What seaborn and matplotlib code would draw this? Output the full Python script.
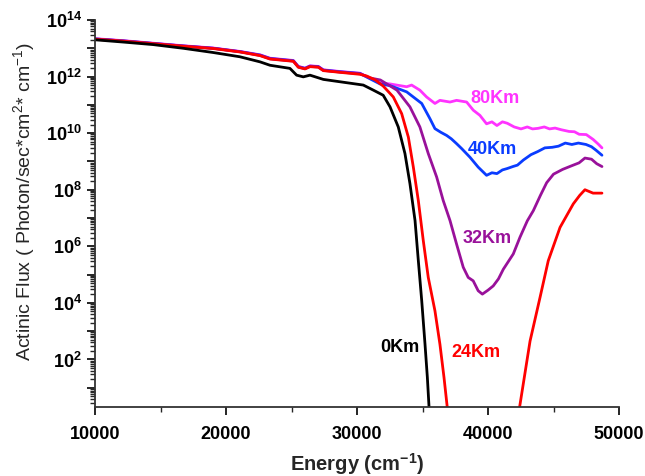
import numpy as np
import pandas as pd
import matplotlib
matplotlib.use("Agg")
import matplotlib.pyplot as plt
import seaborn as sns
from matplotlib.ticker import LogLocator, FixedLocator, MultipleLocator

# energies (cm^-1) and log10(flux)
e_0km = [10000, 12160, 14450, 16740, 19030, 21060, 22600, 23360, 24880, 25390, 25900,
         26410, 27430, 28190, 29720, 30480, 31250, 32000, 32520, 33150, 33660, 34040,
         34430, 34680, 34940, 35190, 35370, 35500, 35800]
f_0km = [13.30, 13.22, 13.13, 13.00, 12.85, 12.70, 12.52, 12.40, 12.29, 12.05, 11.99,
         12.05, 11.90, 11.85, 11.75, 11.70, 11.52, 11.34, 10.93, 10.22, 9.28, 8.22,
         6.91, 5.50, 4.08, 2.55, 1.37, 0.31, -0.5]

e_24km = [10000, 12160, 14450, 16740, 19030, 21060, 22600, 23360, 25140, 25520, 26030,
          26410, 27050, 27430, 28700, 30230, 30740, 31400, 32010, 32770, 33410, 33920,
          34300, 34680, 35060, 35440, 35950, 36330, 36640, 36890, 37200, 39500, 42200,
          42400, 43210, 43970, 44600, 45500, 46510, 47000, 47400, 48020, 48700]
f_24km = [13.32, 13.25, 13.16, 13.07, 12.99, 12.87, 12.74, 12.62, 12.54, 12.33, 12.27,
          12.35, 12.33, 12.21, 12.15, 12.08, 12.02, 11.88, 11.66, 11.28, 10.69, 9.86,
          8.80, 7.62, 6.20, 4.90, 3.72, 2.54, 1.37, 0.31, -0.5, -3.0, -0.5,
          0.28, 2.65, 4.19, 5.49, 6.67, 7.50, 7.80, 8.00, 7.88, 7.88]

e_32km = [10000, 12160, 14450, 16740, 19030, 21060, 22600, 23360, 25140, 25520, 26030,
          26410, 27050, 27430, 28700, 30230, 31000, 31780, 33050, 34040, 34800, 35440,
          36080, 36580, 37100, 37600, 38110, 38490, 38870, 39250, 39570, 40000, 40400,
          40800, 41170, 41930, 42440, 43000, 43460, 44000, 44480, 45000, 45700, 46400,
          46950, 47400, 47900, 48300, 48700]
f_32km = [13.33, 13.26, 13.17, 13.08, 13.00, 12.88, 12.75, 12.63, 12.55, 12.34, 12.28,
          12.36, 12.34, 12.22, 12.16, 12.10, 11.95, 11.88, 11.52, 10.93, 10.22, 9.28,
          8.45, 7.62, 6.91, 6.08, 5.26, 4.90, 4.78, 4.43, 4.31, 4.45, 4.60,
          4.85, 5.19, 5.73, 6.32, 6.90, 7.26, 7.80, 8.25, 8.55, 8.72, 8.85,
          8.95, 9.12, 9.08, 8.92, 8.82]

e_40km = [10000, 12160, 14450, 16740, 19030, 21060, 22600, 23360, 25140, 25520, 26030,
          26410, 27050, 27430, 28700, 30230, 31000, 31760, 32520, 33790, 34940, 35570,
          35950, 36400, 36840, 37200, 37600, 38000, 38620, 39250, 39890, 40300, 40680,
          41100, 41470, 41900, 42250, 42700, 43280, 43800, 44340, 44900, 45380, 45900,
          46400, 46900, 47480, 47900, 48240, 48700]
f_40km = [13.33, 13.26, 13.17, 13.08, 13.00, 12.88, 12.76, 12.64, 12.56, 12.35, 12.29,
          12.37, 12.35, 12.23, 12.17, 12.11, 11.92, 11.74, 11.68, 11.46, 11.05, 10.51,
          10.16, 10.03, 9.92, 9.80, 9.63, 9.45, 9.15, 8.80, 8.51, 8.60, 8.57,
          8.70, 8.75, 8.82, 8.87, 9.05, 9.24, 9.35, 9.48, 9.50, 9.54, 9.65,
          9.60, 9.65, 9.60, 9.52, 9.40, 9.22]

e_80km = [10000, 12160, 14450, 16740, 19030, 21060, 22600, 23360, 25140, 25520, 26030,
          26410, 27050, 27430, 28700, 30230, 31000, 31760, 32520, 33790, 34170, 34800,
          35310, 35950, 36330, 37100, 37600, 38370, 38880, 39380, 39890, 40300, 40680,
          41100, 41470, 42000, 42520, 43000, 43400, 43820, 44300, 44700, 45120, 45600,
          46190, 46600, 46960, 47500, 48020, 48400, 48700]
f_80km = [13.34, 13.27, 13.18, 13.09, 13.01, 12.89, 12.77, 12.65, 12.57, 12.36, 12.30,
          12.38, 12.36, 12.24, 12.18, 12.12, 11.94, 11.77, 11.74, 11.64, 11.70, 11.52,
          11.28, 11.05, 11.16, 11.10, 11.16, 11.10, 10.81, 10.63, 10.33, 10.40, 10.27,
          10.40, 10.35, 10.22, 10.15, 10.22, 10.15, 10.17, 10.22, 10.15, 10.18, 10.12,
          10.06, 10.05, 9.96, 9.95, 9.78, 9.62, 9.48]

series = [
    ("0Km", e_0km, f_0km, "black"),
    ("24Km", e_24km, f_24km, "#ff0000"),
    ("32Km", e_32km, f_32km, "#99119a"),
    ("40Km", e_40km, f_40km, "#0a3cff"),
    ("80Km", e_80km, f_80km, "#ff33ff"),
]

# label positions (energy, log10 flux)
labels = {
    "0Km": (33280, 2.44),
    "24Km": (39080, 2.23),
    "32Km": (39920, 6.27),
    "40Km": (40300, 9.43),
    "80Km": (40530, 11.23),
}

sns.set_style("ticks")
plt.rcParams['font.family'] = ['Liberation Sans', 'DejaVu Sans']
plt.rcParams['mathtext.fontset'] = 'custom'
plt.rcParams['mathtext.rm'] = 'Liberation Sans'
plt.rcParams['mathtext.bf'] = 'Liberation Sans:bold'
plt.rcParams['mathtext.it'] = 'Liberation Sans:italic'

fig = plt.figure(figsize=(6.45, 4.76), dpi=100)
ax = fig.add_axes([95 / 645, 69 / 476, 524 / 645, 387 / 476])

# draw in reverse so 80Km sits on top, like the original
for name, e, f, c in reversed(series):
    df = pd.DataFrame({"energy": e, "flux": 10 ** np.array(f)})
    sns.lineplot(data=df, x="energy", y="flux", ax=ax, color=c, lw=2,
                 sort=False, estimator=None)

for name, e, f, c in series:
    x, y = labels[name]
    ax.text(x, 10 ** y, name, color=c, fontsize=13, fontweight='bold',
            ha='center', va='center')

ax.set_yscale('log')
ax.set_xlim(10000, 50000)
ax.set_ylim(10 ** 0.32, 1e14)

ax.xaxis.set_major_locator(MultipleLocator(10000))
ax.xaxis.set_minor_locator(MultipleLocator(5000))
ax.set_xticklabels([f"{int(v)}" for v in ax.get_xticks()])

ax.yaxis.set_minor_locator(LogLocator(base=10, subs=np.arange(2, 10), numticks=30))
ymaj = [10.0 ** k for k in range(1, 15)]
ax.yaxis.set_major_locator(FixedLocator(ymaj))
ax.set_yticklabels([r"$\mathbf{10^{%d}}$" % k if k % 2 == 0 else "" for k in range(1, 15)])

for lab in ax.get_xticklabels():
    lab.set_fontweight('bold')
ax.tick_params(axis='both', which='major', direction='out', length=6, width=1.2,
               labelsize=13, colors='black')
ax.tick_params(axis='x', which='major', pad=8)
ax.tick_params(axis='both', which='minor', direction='out', length=3.5, width=1.0)

sns.despine(ax=ax)
for sp in ['left', 'bottom']:
    ax.spines[sp].set_linewidth(1.3)
    ax.spines[sp].set_color('#333333')

ax.set_xlabel(r"Energy (cm$^{\mathbf{-1}}$)", fontsize=14.5, fontweight='bold')
ax.set_ylabel(r"Actinic Flux ( Photon/sec*cm$^{2}$* cm$^{-1}$)", fontsize=14)
ax.xaxis.set_label_coords(0.5, -0.115)
ax.yaxis.set_label_coords(-0.11, 0.53)

fig.savefig("out.png", dpi=100)
